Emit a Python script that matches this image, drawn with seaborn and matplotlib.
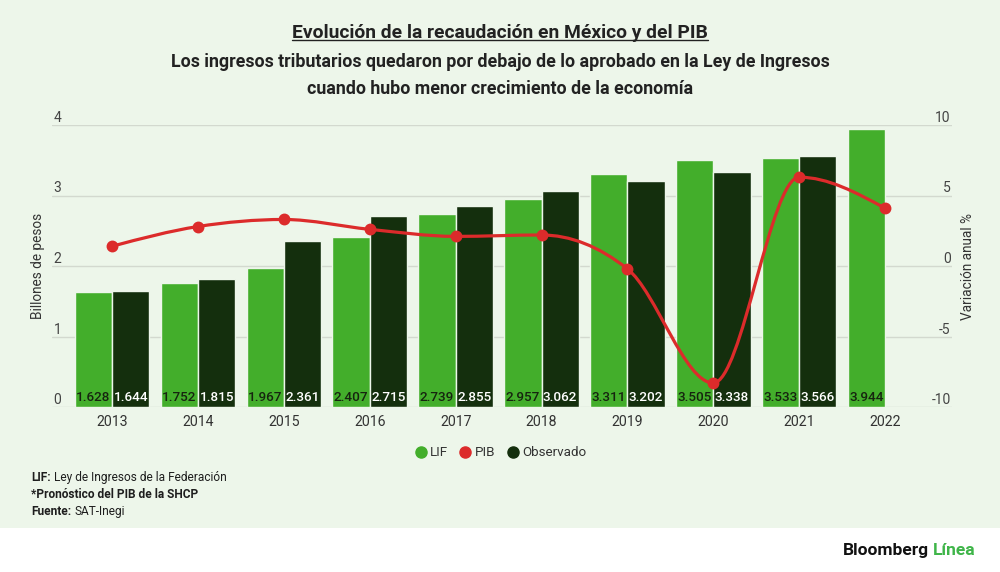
import numpy as np
import pandas as pd
import matplotlib
matplotlib.use('Agg')
import matplotlib.pyplot as plt
from matplotlib.path import Path
from matplotlib.patches import PathPatch, Rectangle
from matplotlib.lines import Line2D
import seaborn as sns

# datos (billones de pesos / variación % anual)
anios = ['2013', '2014', '2015', '2016', '2017', '2018', '2019', '2020', '2021', '2022']
lif = [1.628, 1.752, 1.967, 2.407, 2.739, 2.957, 3.311, 3.505, 3.533, 3.944]
observado = [1.644, 1.815, 2.361, 2.715, 2.855, 3.062, 3.202, 3.338, 3.566, None]
pib = [1.4, 2.8, 3.3, 2.6, 2.1, 2.2, -0.2, -8.3, 6.3, 4.1]

ticks_izq = [0, 1, 2, 3, 4]
ticks_der = [-10, -5, 0, 5, 10]

VERDE = '#43ae2b'
OSCURO = '#142f0d'
ROJO = '#dc2b2b'
FONDO = '#edf6ea'
TEXTO = '#333333'
NEGRO = '#1e1e1e'

sns.set_theme(style='white', rc={'axes.unicode_minus': False})
plt.rcParams['font.family'] = ['Roboto', 'DejaVu Sans']
plt.rcParams['axes.unicode_minus'] = False

df = pd.DataFrame({
    'anio': anios * 2,
    'serie': ['LIF'] * len(anios) + ['Observado'] * len(anios),
    'valor': lif + observado,
}).dropna()

fig = plt.figure(figsize=(10, 5.72), dpi=100, facecolor='white')
fig.patches.append(Rectangle((0, 44 / 572), 1, 1, transform=fig.transFigure,
                             facecolor=FONDO, edgecolor='none', zorder=-1))

ax = fig.add_axes([0.052, 165 / 572, 0.9, 282 / 572])
ax.set_facecolor('none')

sns.barplot(data=df, x='anio', y='valor', hue='serie', order=anios,
            hue_order=['LIF', 'Observado'],
            palette={'LIF': VERDE, 'Observado': OSCURO},
            width=0.87, saturation=1, errorbar=None, legend=False,
            linewidth=1, edgecolor=FONDO, ax=ax)

# etiquetas en la base de cada barra
for cont, col in zip(ax.containers, ['#16240f', 'white']):
    for bar, v in zip(cont, cont.datavalues):
        ax.annotate(f'{v:.3f}', (bar.get_x() + bar.get_width() / 2, 0),
                    xytext=(0, 6.5), textcoords='offset points',
                    ha='center', va='center', color=col,
                    fontsize=9.7, fontweight='medium', zorder=4)

ax2 = ax.twinx()
sns.pointplot(x=anios, y=pib, order=anios, color=ROJO, linestyle='none',
              markers='o', markersize=6.5, errorbar=None, ax=ax2)

# curva suave (monotone x) entre los puntos del PIB
xy = ax2.lines[0].get_xydata()
x, y = xy[:, 0], xy[:, 1]
h = np.diff(x)
s = np.diff(y) / h
t = np.zeros_like(y)
for i in range(1, len(y) - 1):
    if s[i - 1] * s[i] > 0:
        p = (s[i - 1] * h[i] + s[i] * h[i - 1]) / (h[i - 1] + h[i])
        t[i] = np.sign(s[i]) * min(2 * abs(s[i - 1]), 2 * abs(s[i]), abs(p))
t[0] = (3 * s[0] - t[1]) / 2
t[-1] = (3 * s[-1] - t[-2]) / 2
verts = [(x[0], y[0])]
codes = [Path.MOVETO]
for i in range(len(x) - 1):
    d = h[i] / 3
    verts += [(x[i] + d, y[i] + d * t[i]), (x[i + 1] - d, y[i + 1] - d * t[i + 1]),
              (x[i + 1], y[i + 1])]
    codes += [Path.CURVE4] * 3
ax2.add_patch(PathPatch(Path(verts, codes), fill=False, edgecolor=ROJO, lw=2.3,
                        capstyle='round', joinstyle='round', zorder=1))
ax2.lines[0].set_zorder(3)

# ejes
ax.set_xlim(-0.7, 9.78)
ax.set_ylim(0, 4)
ax2.set_ylim(-10, 10)
ax.set_yticks(ticks_izq)
ax2.set_yticks(ticks_der)
ax.yaxis.grid(True, color='#d3d9cf', lw=1)
ax.xaxis.grid(False)
ax2.grid(False)
ax.set_axisbelow(True)
for a in (ax, ax2):
    for sp in a.spines.values():
        sp.set_visible(False)

ax.tick_params(axis='x', length=0, pad=5.5, labelsize=10.2, labelcolor=TEXTO)
ax.tick_params(axis='y', length=0, pad=-1, labelsize=10, labelcolor='#444444')
ax2.tick_params(axis='y', length=0, pad=-1, labelsize=10, labelcolor='#444444')
for lab in ax.get_yticklabels():
    lab.set_horizontalalignment('left')
    lab.set_verticalalignment('bottom')
for lab in ax2.get_yticklabels():
    lab.set_horizontalalignment('right')
    lab.set_verticalalignment('bottom')

ax.set_xlabel('')
ax2.set_xlabel('')
ax.set_ylabel('Billones de pesos', fontsize=9.8, color=TEXTO)
ax.yaxis.set_label_coords(-0.008, 0.5)
ax2.set_ylabel('Variación anual %', fontsize=9.8, color=TEXTO, rotation=90)
ax2.yaxis.set_label_coords(1.010, 0.5)

# leyenda
handles = [Line2D([], [], marker='o', ls='none', color=c, markersize=8)
           for c in [VERDE, ROJO, OSCURO]]
fig.legend(handles, ['LIF', 'PIB', 'Observado'], loc='center',
           bbox_to_anchor=(0.5, 1 - 453 / 572), ncol=3, frameon=False,
           fontsize=9.6, handletextpad=0.2, columnspacing=0.8,
           handlelength=1, labelcolor=TEXTO)

# títulos
titulo = fig.text(0.5, 1 - 37.7 / 572, 'Evolución de la recaudación en México y del PIB',
                  ha='center', va='baseline', fontsize=13.9, fontweight='bold', color='#222222')
fig.text(0.5, 1 - 66.7 / 572,
         'Los ingresos tributarios quedaron por debajo de lo aprobado en la Ley de Ingresos',
         ha='center', va='baseline', fontsize=12.75, fontweight='bold', color='#222222')
fig.text(0.5, 1 - 94 / 572, 'cuando hubo menor crecimiento de la economía',
         ha='center', va='baseline', fontsize=12.75, fontweight='bold', color='#222222')

# notas (parte en negrita + parte normal sobre la misma línea base)
notas = [('LIF:', 'Ley de Ingresos de la Federación'),
         ('*Pronóstico del PIB de la SHCP', ''),
         ('Fuente:', 'SAT-Inegi')]
negritas = []
for k, (neg, reg) in enumerate(notas):
    yb = 1 - (481 + 17 * k) / 572
    tb = fig.text(31 / 1000, yb, neg, ha='left', va='baseline',
                  fontsize=8.6, fontweight='bold', color=NEGRO)
    negritas.append((tb, reg, yb))

# logo
lb = fig.text(843 / 1000, 1 - 555 / 572, 'Bloomberg', ha='left', va='baseline',
              fontsize=12.5, fontweight='bold', color='#111111')

fig.canvas.draw()
inv = fig.transFigure.inverted()
for tb, reg, yb in negritas:
    if reg:
        xb = inv.transform((tb.get_window_extent().x1 + 3, 0))[0]
        fig.text(xb, yb, reg, ha='left', va='baseline', fontsize=8.6, color=NEGRO)
xl = inv.transform((lb.get_window_extent().x1 + 4, 0))[0]
fig.text(xl, 1 - 555 / 572, 'Línea', ha='left', va='baseline',
         fontsize=12.5, fontweight='bold', color='#3fb549')

# subrayado del título
bb = titulo.get_window_extent()
x0 = inv.transform((bb.x0, 0))[0]
x1 = inv.transform((bb.x1, 0))[0]
yl = 1 - 40 / 572
fig.lines.append(Line2D([x0, x1], [yl, yl], transform=fig.transFigure,
                        color='#222222', lw=1))

fig.savefig('out.png', dpi=100, facecolor=fig.get_facecolor())
